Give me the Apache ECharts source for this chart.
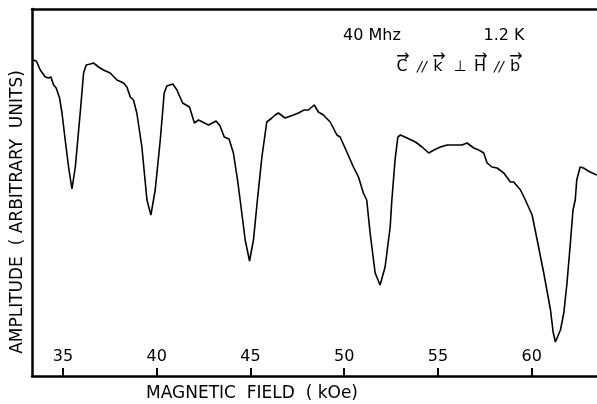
<!DOCTYPE html>
<html>
<head>
<meta charset="utf-8">
<script src="https://cdn.jsdelivr.net/npm/echarts@6/dist/echarts.min.js"></script>
<style>
  html, body { margin: 0; padding: 0; background: #fff; }
  #chart { width: 597px; height: 404px; }
</style>
</head>
<body>
<div id="chart"></div>
<script>
// trace: field (kOe) and amplitude (arbitrary)
var field = [
  33.40, 33.58, 33.79, 34.06, 34.23, 34.36, 34.50, 34.64, 34.82, 34.95,
  35.12, 35.30, 35.48, 35.66, 35.92, 36.10, 36.24, 36.46, 36.63, 36.90,
  37.16, 37.52, 37.88, 38.23, 38.41, 38.59, 38.76, 38.94, 39.21, 39.48,
  39.69, 39.92, 40.19, 40.40, 40.54, 40.86, 41.08, 41.38, 41.75, 42.01,
  42.23, 42.76, 43.17, 43.38, 43.60, 43.86, 44.09, 44.31, 44.45, 44.72,
  44.95, 45.16, 45.37, 45.61, 45.87, 46.14, 46.32, 46.49, 46.85, 47.29,
  47.56, 47.86, 48.09, 48.40, 48.62, 48.89, 49.25, 49.61, 49.78, 50.14,
  50.49, 50.76, 51.02, 51.20, 51.38, 51.65, 51.91, 52.18, 52.45, 52.54,
  52.71, 52.86, 53.00, 53.35, 53.80, 54.15, 54.51, 54.78, 55.13, 55.49,
  55.93, 56.28, 56.55, 56.91, 57.17, 57.44, 57.62, 57.88, 58.15, 58.51,
  58.86, 59.04, 59.40, 59.66, 60.02, 60.29, 60.64, 61.00, 61.14, 61.26,
  61.53, 61.71, 61.88, 62.06, 62.20, 62.32, 62.40, 62.58, 62.76, 63.11,
  63.47
];
var amplitude = [
  316, 315, 306, 299, 298, 299, 291, 288, 278, 263,
  236, 209, 187, 209, 263, 303, 311, 312, 313, 309,
  306, 303, 296, 293, 289, 279, 276, 263, 229, 176,
  161, 186, 236, 283, 290, 292, 286, 273, 269, 253,
  256, 251, 255, 250, 239, 237, 223, 196, 176, 136,
  115, 136, 176, 219, 254, 258, 261, 263, 258, 261,
  263, 266, 266, 271, 264, 261, 254, 241, 239, 224,
  209, 199, 183, 176, 143, 103, 91, 109, 149, 176,
  216, 239, 241, 238, 234, 229, 223, 226, 229, 231,
  231, 231, 233, 228, 226, 223, 213, 209, 208, 203,
  194, 194, 186, 176, 161, 136, 103, 66, 44, 34,
  46, 63, 93, 133, 166, 176, 196, 209, 208, 204,
  201
];
var tickValues = [35, 40, 45, 50, 55, 60];

var pts = field.map(function (f, i) { return [f, amplitude[i]]; });

var font = 'DejaVu Sans';
function txt(x, y, s, f) {
  return { type: 'text', x: x, y: y, style: { text: s, font: f, fill: '#000', textAlign: 'center', textVerticalAlign: 'middle' } };
}

var chart = echarts.init(document.getElementById('chart'));
var option = {
  backgroundColor: '#fff',
  animation: false,
  grid: { left: 32, right: 0, top: 9, bottom: 28 },
  xAxis: [{
    type: 'value',
    min: 33.35,
    max: 63.48,
    axisLine: { show: true, lineStyle: { color: '#000', width: 2.5 } },
    axisTick: { show: true, inside: true, length: 8, customValues: tickValues,
      lineStyle: { color: '#000', width: 2 } },
    axisLabel: { show: true, inside: true, margin: 11, customValues: tickValues,
      color: '#000', fontFamily: font, fontSize: 16 },
    splitLine: { show: false }
  }, {
    type: 'value',
    position: 'top',
    min: 33.35,
    max: 63.48,
    axisLine: { show: true, lineStyle: { color: '#000', width: 2.5 } },
    axisTick: { show: false },
    axisLabel: { show: false },
    splitLine: { show: false }
  }],
  yAxis: {
    type: 'value',
    min: 0,
    max: 367,
    axisLine: { show: true, lineStyle: { color: '#000', width: 2.5 } },
    axisTick: { show: false },
    axisLabel: { show: false },
    splitLine: { show: false }
  },
  series: [{
    type: 'line',
    data: pts,
    showSymbol: false,
    lineStyle: { color: '#000', width: 1.6 }
  }],
  graphic: [
    txt(252, 394, 'MAGNETIC  FIELD  ( kOe)', '17px "DejaVu Sans"'),
    Object.assign(txt(18, 212, 'AMPLITUDE  ( ARBITRARY  UNITS)', '17px "DejaVu Sans"'), { rotation: Math.PI / 2 }),
    txt(372, 36, '40 Mhz', '16px "DejaVu Sans"'),
    txt(504, 36, '1.2 K', '16px "DejaVu Sans"'),
    txt(402, 67, 'C', '16px "DejaVu Sans"'),
    txt(422, 67, '//', 'italic 14px "DejaVu Sans"'),
    txt(438, 67, 'k', '16px "DejaVu Sans"'),
    txt(460, 67, '⊥', '15px "DejaVu Sans"'),
    txt(480, 67, 'H', '16px "DejaVu Sans"'),
    txt(499, 67, '//', 'italic 14px "DejaVu Sans"'),
    txt(515, 67, 'b', '16px "DejaVu Sans"'),
    txt(403, 57, '→', '16px "DejaVu Sans"'),
    txt(439, 57, '→', '16px "DejaVu Sans"'),
    txt(481, 57, '→', '16px "DejaVu Sans"'),
    txt(516, 57, '→', '16px "DejaVu Sans"')
  ]
};
chart.setOption(option, true);
</script>
</body>
</html>
